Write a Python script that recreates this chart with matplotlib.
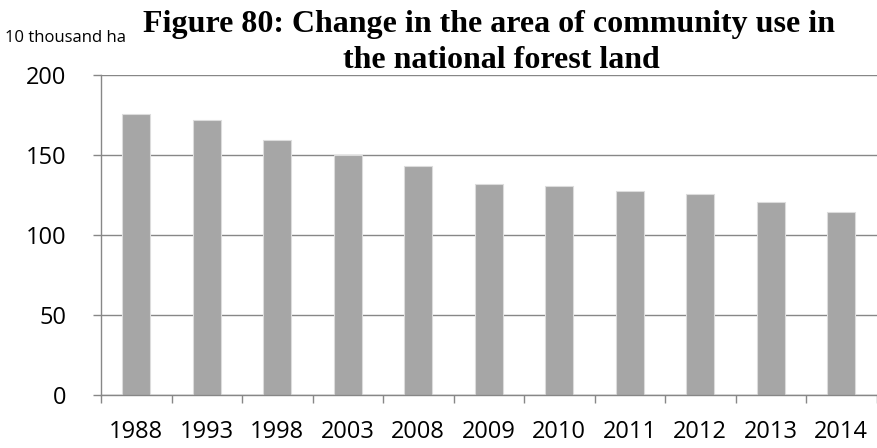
import numpy as np
import matplotlib
matplotlib.use("Agg")
import matplotlib.pyplot as plt

# Data (10 thousand ha)
years = ["1988", "1993", "1998", "2003", "2008", "2009", "2010", "2011", "2012", "2013", "2014"]
area = [175.6, 171.7, 159.2, 150.0, 142.9, 131.9, 130.8, 127.3, 125.8, 120.8, 114.6]
title_lines = ["Figure 80: Change in the area of community use in", "the national forest land"]

grid_color = "#878787"
bar_color = "#a6a6a6"

fig = plt.figure(figsize=(8.77, 4.48), dpi=100)
ax = fig.add_axes([101 / 877, 1 - 395 / 448, 775.5 / 877, 320 / 448])

x = np.arange(len(years))
ax.bar(x, area, width=0.4, color=bar_color, edgecolor="#dcdcdc", linewidth=0.8, zorder=3)

ax.set_xlim(-0.5, len(years) - 0.5)
ax.set_ylim(0, 200)
ax.set_yticks([0, 50, 100, 150, 200])
ax.yaxis.grid(True, color=grid_color, linewidth=1.0, zorder=0)

# labels centred under bars, tick marks at category boundaries
ax.set_xticks(x)
ax.set_xticklabels(years, fontsize=17, family="Open Sans")
ax.set_xticks(np.arange(len(years) + 1) - 0.5, minor=True)
ax.tick_params(axis="x", which="major", length=0, pad=18)
ax.tick_params(axis="x", which="minor", length=6, width=1.0, color=grid_color, direction="out")
ax.tick_params(axis="y", length=6, width=1.0, color=grid_color, pad=19, labelsize=17)
for lbl in ax.get_yticklabels():
    lbl.set_family("Open Sans")

for side in ["top", "right"]:
    ax.spines[side].set_visible(False)
for side in ["left", "bottom"]:
    ax.spines[side].set_color(grid_color)
    ax.spines[side].set_linewidth(1.0)
ax.spines["bottom"].set_zorder(4)

# title in two lines, Times-like bold
fig.text(489 / 877, 1 - 32 / 448, title_lines[0], ha="center", va="baseline",
         fontsize=23, fontweight="bold", family="Liberation Serif")
fig.text(501 / 877, 1 - 68 / 448, title_lines[1], ha="center", va="baseline",
         fontsize=23, fontweight="bold", family="Liberation Serif")
fig.text(5 / 877, 1 - 42 / 448, "10 thousand ha", ha="left", va="baseline",
         fontsize=12, family="Open Sans")

fig.savefig("out.png", dpi=100)
